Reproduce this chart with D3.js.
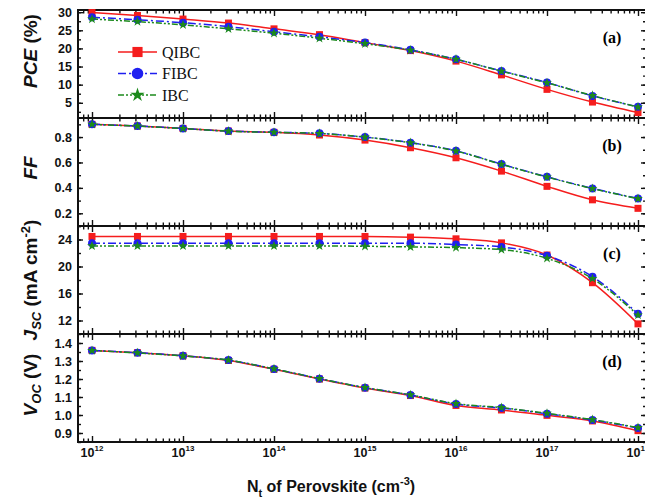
<!DOCTYPE html>
<html>
<head>
<meta charset="utf-8">
<script src="https://cdn.jsdelivr.net/npm/d3@7"></script>
<style>
  body { margin: 0; background: #fff; }
  svg { display: block; }
</style>
</head>
<body>
<div id="chart"></div>
<script>
// Trap density (x) and the three device series, one small array per panel/series
const nt = [1e12, 3.16e12, 1e13, 3.16e13, 1e14, 3.16e14, 1e15, 3.16e15, 1e16, 3.16e16, 1e17, 3.16e17, 1e18];
const seriesNames = ["QIBC", "FIBC", "IBC"];

const pceQIBC = [29.9, 29.1, 28.1, 27.0, 25.4, 23.8, 21.6, 19.4, 16.5, 12.7, 8.7, 5.2, 2.3];
const pceFIBC = [28.6, 27.9, 27.1, 26.0, 24.6, 23.2, 21.6, 19.6, 17.0, 13.8, 10.6, 6.9, 3.9];
const pceIBC  = [28.1, 27.4, 26.5, 25.4, 24.2, 22.8, 21.3, 19.5, 17.0, 13.7, 10.5, 7.0, 3.8];

const ffQIBC = [0.900, 0.887, 0.868, 0.847, 0.837, 0.816, 0.776, 0.716, 0.637, 0.532, 0.412, 0.306, 0.239];
const ffFIBC = [0.900, 0.887, 0.868, 0.847, 0.838, 0.829, 0.800, 0.756, 0.692, 0.587, 0.487, 0.396, 0.317];
const ffIBC  = [0.900, 0.886, 0.867, 0.846, 0.837, 0.828, 0.799, 0.755, 0.690, 0.585, 0.485, 0.394, 0.315];

const jscQIBC = [24.45, 24.45, 24.45, 24.45, 24.45, 24.45, 24.45, 24.35, 24.1, 23.5, 21.7, 17.6, 11.5];
const jscFIBC = [23.45, 23.45, 23.45, 23.45, 23.45, 23.45, 23.45, 23.45, 23.25, 22.9, 21.6, 18.5, 13.0];
const jscIBC  = [23.05, 23.05, 23.05, 23.05, 23.05, 23.05, 23.0, 22.9, 22.8, 22.5, 21.2, 18.2, 12.8];

const vocQIBC = [1.359, 1.346, 1.329, 1.303, 1.254, 1.200, 1.150, 1.108, 1.053, 1.028, 0.998, 0.967, 0.913];
const vocFIBC = [1.359, 1.346, 1.329, 1.305, 1.256, 1.202, 1.152, 1.111, 1.061, 1.039, 1.007, 0.972, 0.928];
const vocIBC  = [1.358, 1.345, 1.328, 1.305, 1.256, 1.202, 1.152, 1.112, 1.063, 1.041, 1.009, 0.974, 0.930];

// tick values
const xMajor = [1e12, 1e13, 1e14, 1e15, 1e16, 1e17, 1e18];
const pceTicks = [5, 10, 15, 20, 25, 30];
const ffTicks = [0.2, 0.4, 0.6, 0.8];
const jscTicks = [12, 16, 20, 24];
const vocTicks = [0.9, 1.0, 1.1, 1.2, 1.3, 1.4];

const panels = [
  { key: "(a)", domain: [0.8, 30.6], ticks: pceTicks, minor: 2.5, fmt: d3.format("d"), values: [pceQIBC, pceFIBC, pceIBC] },
  { key: "(b)", domain: [0.1, 0.95], ticks: ffTicks, minor: 0.1, fmt: d3.format(".1f"), values: [ffQIBC, ffFIBC, ffIBC] },
  { key: "(c)", domain: [10, 26], ticks: jscTicks, minor: 2, fmt: d3.format("d"), values: [jscQIBC, jscFIBC, jscIBC] },
  { key: "(d)", domain: [0.85, 1.45], ticks: vocTicks, minor: 0.05, fmt: d3.format(".1f"), values: [vocQIBC, vocFIBC, vocIBC] }
];

const colors = { QIBC: "#f51d1d", FIBC: "#1f1ff0", IBC: "#1c8a1c" };
const dashes = { QIBC: null, FIBC: "8,3,2,3", IBC: "6,2,2,2,2,2" };

const width = 645, height = 499;
const left = 78, right = 646, top0 = 10, panelH = 108;

const svg = d3.select("#chart").append("svg")
  .attr("width", width)
  .attr("height", height)
  .style("font-family", "'Liberation Sans', Arial, sans-serif");

const x = d3.scaleLog().domain([1e12, 1e18]).range([92, 638]);

// minor log ticks 2..9 per decade inside the frame
const xMinor = [];
for (let d = 11; d <= 18; d++) {
  for (let k = 2; k <= 9; k++) {
    const v = k * Math.pow(10, d);
    if (x(v) > left && x(v) < right) xMinor.push(v);
  }
}

const line = d3.line()
  .x(d => x(d[0]))
  .y(d => d[1])
  .curve(d3.curveMonotoneX);

panels.forEach((p, i) => {
  const top = top0 + i * panelH;
  const bottom = top + panelH;
  const y = d3.scaleLinear().domain(p.domain).range([bottom, top]);
  const g = svg.append("g");

  // minor y ticks
  const yMinor = [];
  for (let v = Math.ceil(p.domain[0] / p.minor) * p.minor; v <= p.domain[1]; v += p.minor) {
    yMinor.push(+v.toFixed(4));
  }

  // axes (all ticks inward)
  const axes = [
    { ax: d3.axisBottom(x), tr: `translate(0,${bottom})`, vals: xMajor, size: -6 },
    { ax: d3.axisBottom(x), tr: `translate(0,${bottom})`, vals: xMinor, size: -3.5 },
    { ax: d3.axisTop(x), tr: `translate(0,${top})`, vals: xMajor, size: -6 },
    { ax: d3.axisTop(x), tr: `translate(0,${top})`, vals: xMinor, size: -3.5 },
    { ax: d3.axisLeft(y), tr: `translate(${left},0)`, vals: p.ticks, size: -5 },
    { ax: d3.axisLeft(y), tr: `translate(${left},0)`, vals: yMinor, size: -3 },
    { ax: d3.axisRight(y), tr: `translate(${right},0)`, vals: p.ticks, size: -5 },
    { ax: d3.axisRight(y), tr: `translate(${right},0)`, vals: yMinor, size: -3 }
  ];
  axes.forEach(a => {
    const el = g.append("g")
      .attr("transform", a.tr)
      .call(a.ax.tickValues(a.vals).tickSize(a.size).tickSizeOuter(0).tickFormat(""));
    el.select(".domain").remove();
    el.selectAll(".tick text").remove();
    el.selectAll(".tick line").attr("stroke", "#111").attr("stroke-width", 1.4);
  });

  // y tick labels
  g.selectAll(".ylab")
    .data(p.ticks)
    .join("text")
      .attr("class", "ylab")
      .attr("x", left - 6)
      .attr("y", d => y(d) + 4.5)
      .attr("text-anchor", "end")
      .attr("font-size", "12.5px")
      .attr("font-weight", 700)
      .attr("fill", "#111")
      .text(d => p.fmt(d));

  // frame
  g.append("rect")
    .attr("x", left).attr("y", top)
    .attr("width", right - left).attr("height", panelH)
    .attr("fill", "none").attr("stroke", "#111").attr("stroke-width", 2);

  // series lines and markers
  seriesNames.forEach((name, s) => {
    const pts = nt.map((v, j) => [v, y(p.values[s][j])]);
    g.append("path")
      .datum(pts)
      .attr("d", line)
      .attr("fill", "none")
      .attr("stroke", colors[name])
      .attr("stroke-width", 1.5)
      .attr("stroke-dasharray", dashes[name]);
  });
  seriesNames.forEach((name, s) => {
    drawMarkers(g, name, nt.map((v, j) => [x(v), y(p.values[s][j])]), 1);
  });

  // panel letter
  g.append("text")
    .attr("x", 612).attr("y", top + 33)
    .attr("text-anchor", "middle")
    .attr("font-family", "'Liberation Serif', 'Times New Roman', serif")
    .attr("font-weight", 700)
    .attr("font-size", "16px")
    .text(p.key);
});

function drawMarkers(g, name, pts, scale) {
  if (name === "QIBC") {
    const s = 7 * scale;
    g.selectAll(null).data(pts).join("rect")
      .attr("x", d => d[0] - s / 2).attr("y", d => d[1] - s / 2)
      .attr("width", s).attr("height", s)
      .attr("fill", colors.QIBC);
  } else if (name === "FIBC") {
    g.selectAll(null).data(pts).join("circle")
      .attr("cx", d => d[0]).attr("cy", d => d[1])
      .attr("r", 4 * scale)
      .attr("fill", colors.FIBC);
  } else {
    g.selectAll(null).data(pts).join("path")
      .attr("transform", d => `translate(${d[0]},${d[1]})`)
      .attr("d", d3.symbol(d3.symbolStar, 30 * scale * scale))
      .attr("fill", colors.IBC);
  }
}

// x tick labels (10^n)
const xl = svg.append("g");
xMajor.forEach(v => {
  const t = xl.append("text")
    .attr("x", x(v)).attr("y", 457)
    .attr("text-anchor", "middle")
    .attr("font-size", "12.5px")
    .attr("font-weight", 700)
    .attr("fill", "#111");
  t.append("tspan").text("10");
  t.append("tspan").attr("dy", -6).attr("font-size", "8px").text(Math.round(Math.log10(v)));
});

// legend in panel (a)
const legend = svg.append("g");
seriesNames.forEach((name, i) => {
  const ly = 52 + i * 21.5;
  legend.append("line")
    .attr("x1", 118).attr("x2", 157).attr("y1", ly).attr("y2", ly)
    .attr("stroke", colors[name]).attr("stroke-width", 1.5)
    .attr("stroke-dasharray", dashes[name]);
  drawMarkers(legend, name, [[137.5, ly]], 1.45);
  legend.append("text")
    .attr("x", 162).attr("y", ly + 5.5)
    .attr("font-family", "'Liberation Serif', 'Times New Roman', serif")
    .attr("font-size", "16px")
    .attr("fill", "#111")
    .text(name);
});

// y axis titles
function yTitle(cy, parts) {
  const t = svg.append("text")
    .attr("transform", `translate(37,${cy}) rotate(-90)`)
    .attr("text-anchor", "middle")
    .attr("font-size", "19px")
    .attr("font-weight", 700)
    .attr("fill", "#111");
  parts.forEach(p => {
    const ts = t.append("tspan").text(p.t);
    if (p.i) ts.attr("font-style", "italic");
    if (p.sub) ts.attr("font-size", "13px").attr("dy", p.sub);
    if (p.dy) ts.attr("dy", p.dy);
  });
}
yTitle(51, [{ t: "PCE", i: true }, { t: " (%)" }]);
yTitle(168, [{ t: "FF", i: true }]);
yTitle(280, [{ t: "J", i: true }, { t: "SC", i: true, sub: 4 }, { t: " (mA cm", dy: -4 }, { t: "-2", sub: -7 }, { t: ")", dy: 7 }]);
yTitle(385, [{ t: "V", i: true }, { t: "OC", i: true, sub: 4 }, { t: " (V)", dy: -4 }]);

// x axis title
const xt = svg.append("text")
  .attr("x", 331).attr("y", 492)
  .attr("text-anchor", "middle")
  .attr("font-size", "16px")
  .attr("font-weight", 700)
  .attr("fill", "#111");
xt.append("tspan").text("N");
xt.append("tspan").attr("font-size", "11px").attr("dy", 5).text("t");
xt.append("tspan").attr("dy", -5).text(" of Perovskite (cm");
xt.append("tspan").attr("font-size", "11px").attr("dy", -7).text("-3");
xt.append("tspan").attr("dy", 7).text(")");
</script>
</body>
</html>
